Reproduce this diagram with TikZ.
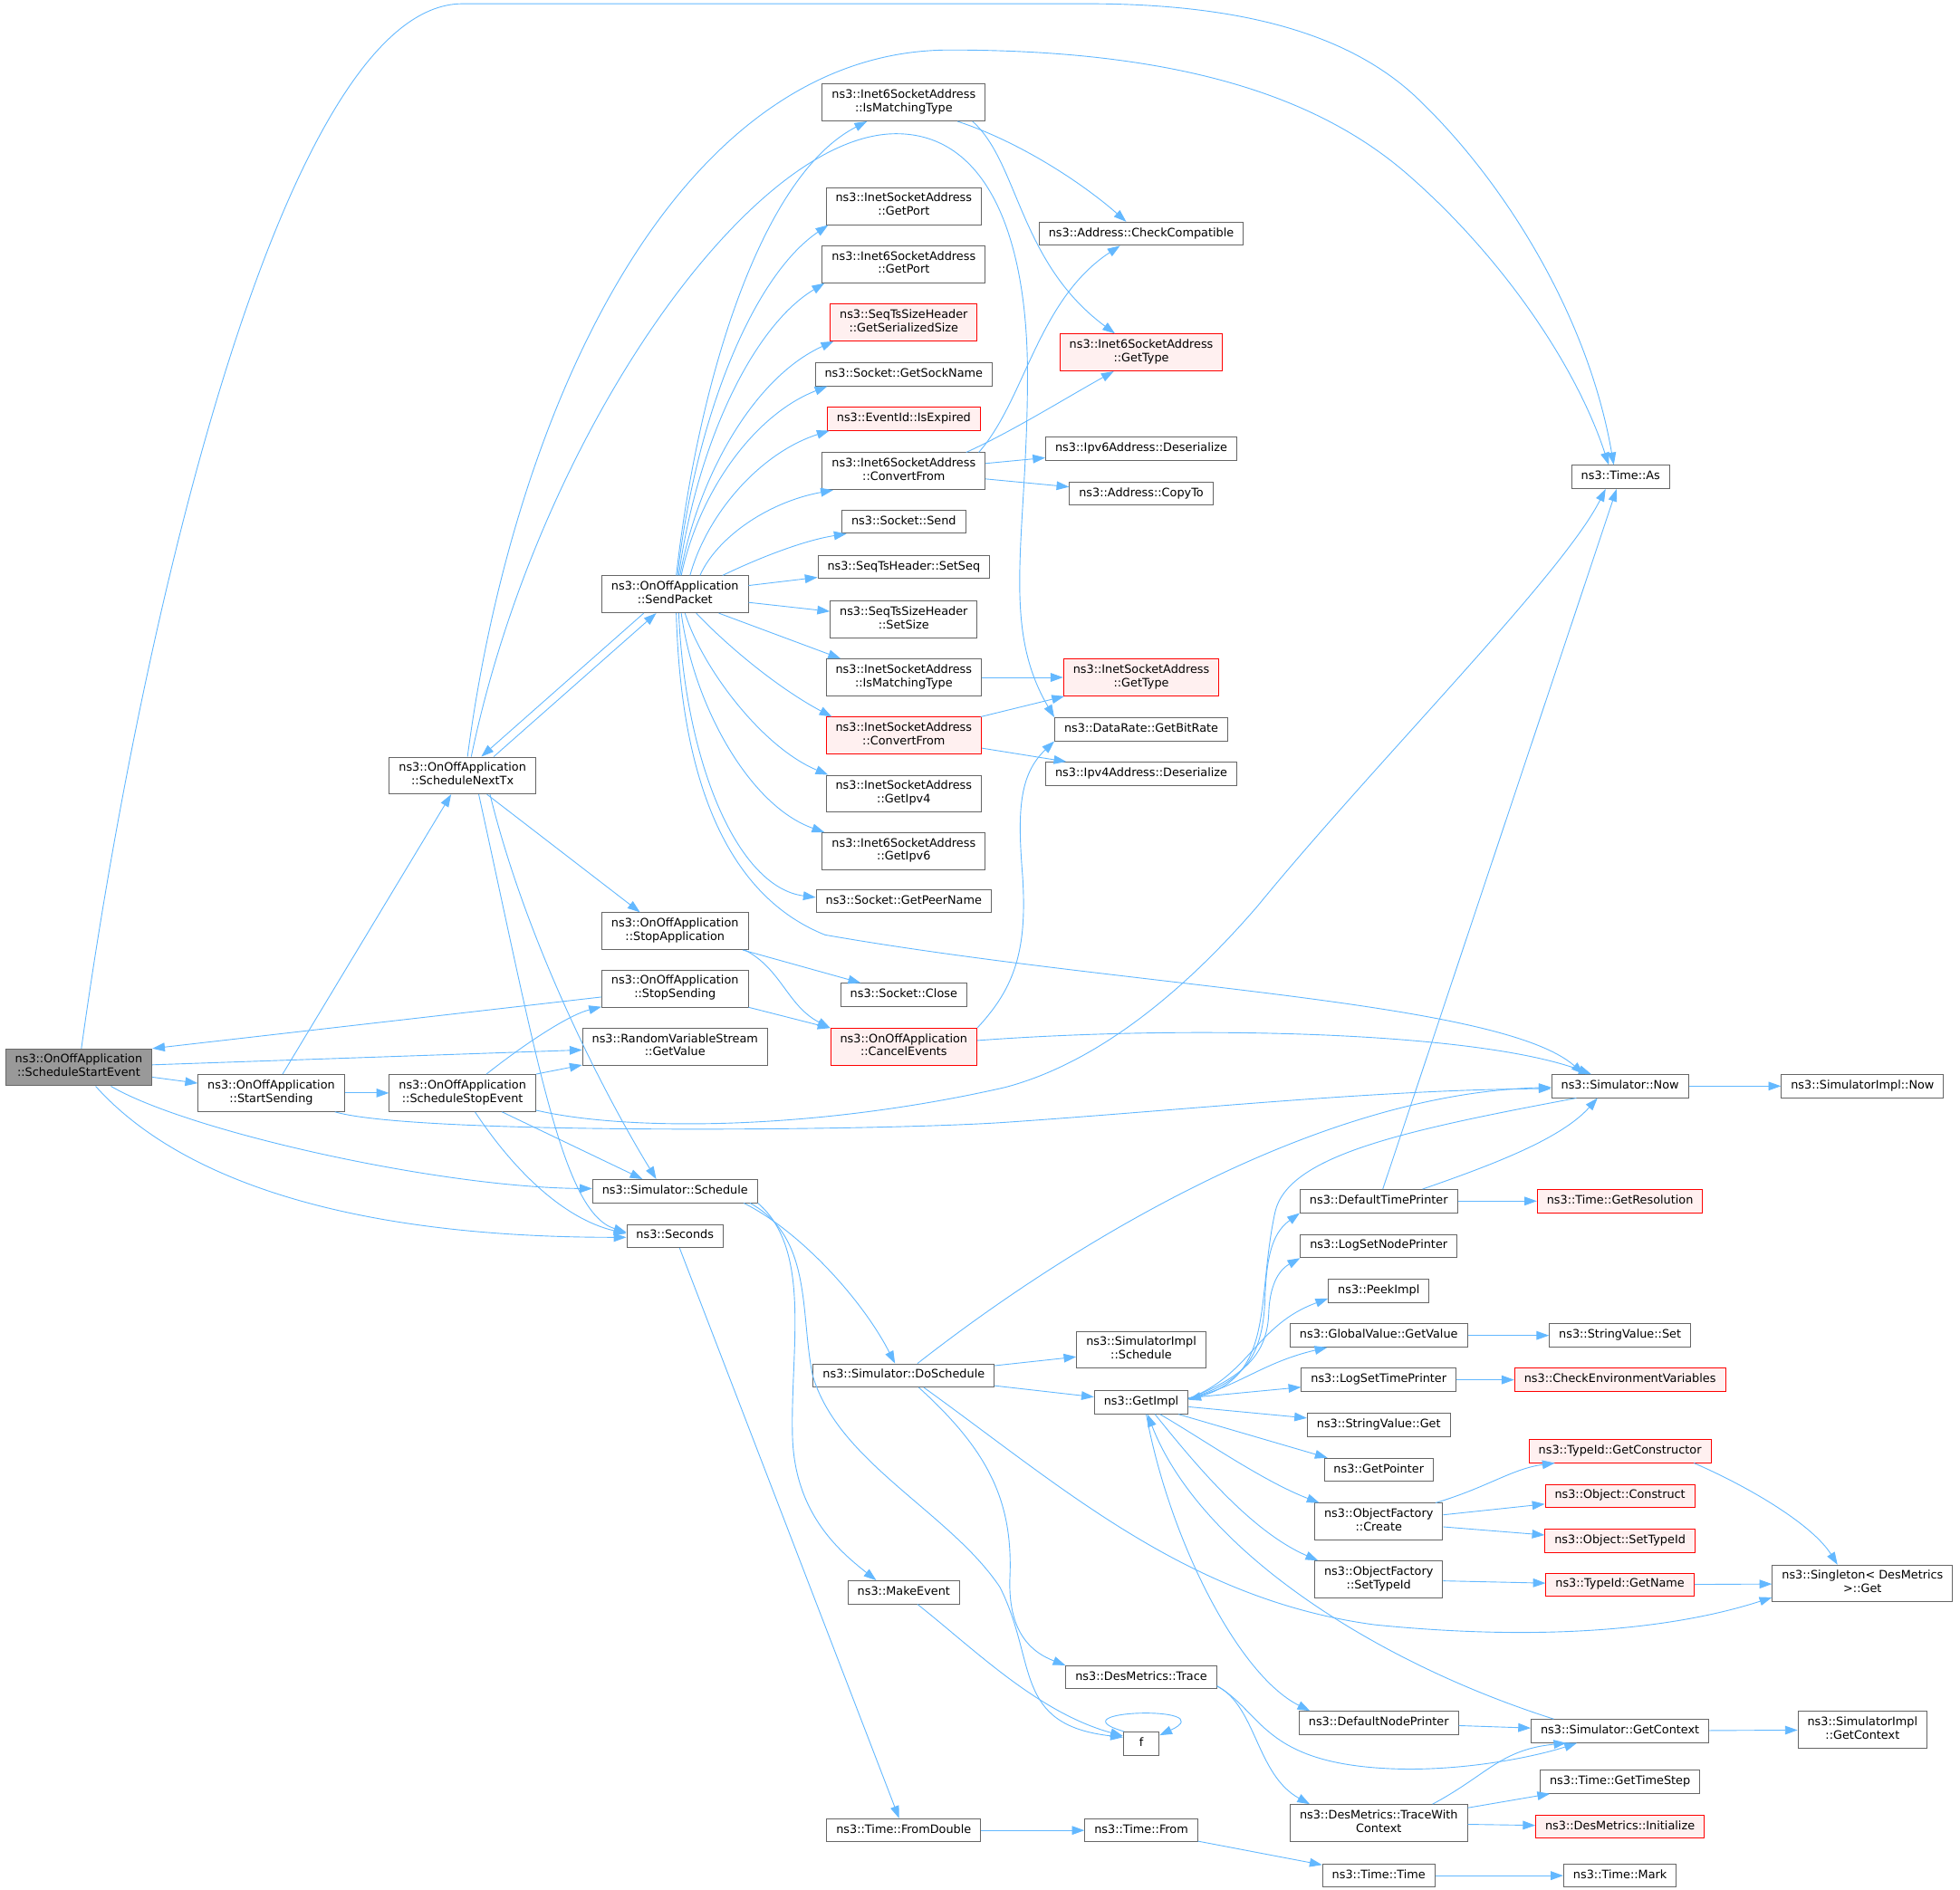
\documentclass[tikz,border=0pt]{standalone}
\usepackage{fontspec}
\setmainfont{DejaVu Sans}
\usetikzlibrary{arrows.meta}
\definecolor{eblue}{HTML}{63B8FF}
\definecolor{bgray}{HTML}{666666}
\definecolor{rootfill}{HTML}{999999}
\definecolor{pinkfill}{HTML}{FFF0F0}
\definecolor{bred}{HTML}{FF0000}
\begin{document}
\begin{tikzpicture}[x=1pt,y=-1pt,
  nd/.style={draw=bgray, fill=white, line width=0.7pt, inner xsep=7.6pt, inner ysep=1pt,
    minimum height=18.5pt, minimum width=28.6pt, font=\fontsize{9.3}{10.8}\selectfont, text=black,
    execute at begin node=\strut},
  nd2/.style={nd, minimum height=29.5pt, align=center, execute at end node=\strut},
  rnd/.style={draw=bred, fill=pinkfill},
  rootnd/.style={fill=rootfill},
  cx/.style={draw=eblue, line width=0.65pt, -{Triangle[length=10pt,width=7pt]}},
]
\useasboundingbox (0,0) rectangle (1568,1511.5);
% column 0-3
\node[nd2,rootnd] (SSE) at (63,854) {ns3::OnOffApplication\\::ScheduleStartEvent};
\node[nd2] (SS) at (217,874.5) {ns3::OnOffApplication\\::StartSending};
\node[nd2] (SNT) at (370,620.5) {ns3::OnOffApplication\\::ScheduleNextTx};
\node[nd2] (SStop) at (370,874.5) {ns3::OnOffApplication\\::ScheduleStopEvent};
\node[nd2] (SP) at (540,475.5) {ns3::OnOffApplication\\::SendPacket};
\node[nd2] (StopApp) at (540,745) {ns3::OnOffApplication\\::StopApplication};
\node[nd2] (StopSnd) at (540,791) {ns3::OnOffApplication\\::StopSending};
\node[nd2] (RVS) at (540,837.5) {ns3::RandomVariableStream\\::GetValue};
\node[nd] (Sched) at (540,953) {ns3::Simulator::Schedule};
\node[nd] (Secs) at (540,989) {ns3::Seconds};
% column 4
\node[nd2] (IM6) at (723,82) {ns3::Inet6SocketAddress\\::IsMatchingType};
\node[nd2] (GP4) at (723,165) {ns3::InetSocketAddress\\::GetPort};
\node[nd2] (GP6) at (723,211.5) {ns3::Inet6SocketAddress\\::GetPort};
\node[nd2,rnd] (GSS) at (723,258) {ns3::SeqTsSizeHeader\\::GetSerializedSize};
\node[nd] (GSN) at (723,299.5) {ns3::Socket::GetSockName};
\node[nd,rnd] (IE) at (723,335) {ns3::EventId::IsExpired};
\node[nd2] (CF6) at (723,377) {ns3::Inet6SocketAddress\\::ConvertFrom};
\node[nd] (Send) at (723,417.5) {ns3::Socket::Send};
\node[nd] (SetSeq) at (723,453.7) {ns3::SeqTsHeader::SetSeq};
\node[nd2] (SetSize) at (723,495.7) {ns3::SeqTsSizeHeader\\::SetSize};
\node[nd2] (IM4) at (723,542) {ns3::InetSocketAddress\\::IsMatchingType};
\node[nd2,rnd] (CF4) at (723,588.6) {ns3::InetSocketAddress\\::ConvertFrom};
\node[nd2] (Ipv4) at (723,635) {ns3::InetSocketAddress\\::GetIpv4};
\node[nd2] (Ipv6) at (723,681) {ns3::Inet6SocketAddress\\::GetIpv6};
\node[nd] (GPN) at (723,721) {ns3::Socket::GetPeerName};
\node[nd] (Close) at (723,796) {ns3::Socket::Close};
\node[nd2,rnd] (CE) at (723,837.5) {ns3::OnOffApplication\\::CancelEvents};
\node[nd] (DoSch) at (723,1100.5) {ns3::Simulator::DoSchedule};
\node[nd] (MkEv) at (723,1274) {ns3::MakeEvent};
\node[nd] (FromD) at (723,1464.5) {ns3::Time::FromDouble};
% column 5
\node[nd] (ChkC) at (913,187) {ns3::Address::CheckCompatible};
\node[nd2,rnd] (I6GT) at (913,282) {ns3::Inet6SocketAddress\\::GetType};
\node[nd] (Ipv6D) at (913,359) {ns3::Ipv6Address::Deserialize};
\node[nd] (CopyTo) at (913,395) {ns3::Address::CopyTo};
\node[nd2,rnd] (IGT) at (913,542) {ns3::InetSocketAddress\\::GetType};
\node[nd] (GBR) at (913,583.5) {ns3::DataRate::GetBitRate};
\node[nd] (Ipv4D) at (913,619) {ns3::Ipv4Address::Deserialize};
\node[nd2] (SIS) at (913,1080) {ns3::SimulatorImpl\\::Schedule};
\node[nd] (GetImpl) at (913,1122) {ns3::GetImpl};
\node[nd] (Trace) at (913,1342) {ns3::DesMetrics::Trace};
\node[nd] (f) at (913,1395) {f};
\node[nd] (TFrom) at (913,1464.5) {ns3::Time::From};
% column 6
\node[nd] (DTP) at (1103,961) {ns3::DefaultTimePrinter};
\node[nd] (LSNP) at (1103,997) {ns3::LogSetNodePrinter};
\node[nd] (Peek) at (1103,1033) {ns3::PeekImpl};
\node[nd] (GVGV) at (1103,1068.5) {ns3::GlobalValue::GetValue};
\node[nd] (LSTP) at (1103,1104) {ns3::LogSetTimePrinter};
\node[nd] (SVGet) at (1103,1140) {ns3::StringValue::Get};
\node[nd] (GetPtr) at (1103,1176) {ns3::GetPointer};
\node[nd2] (OFC) at (1103,1217.5) {ns3::ObjectFactory\\::Create};
\node[nd2] (OFS) at (1103,1263.7) {ns3::ObjectFactory\\::SetTypeId};
\node[nd] (DNP) at (1103,1378.5) {ns3::DefaultNodePrinter};
\node[nd2] (TWC) at (1103,1458.6) {ns3::DesMetrics::TraceWith\\Context};
\node[nd] (TTime) at (1103,1500.7) {ns3::Time::Time};
% column 7
\node[nd] (TimeAs) at (1296.5,381.6) {ns3::Time::As};
\node[nd] (SimNow) at (1296,869) {ns3::Simulator::Now};
\node[nd,rnd] (GetRes) at (1296,961) {ns3::Time::GetResolution};
\node[nd] (SVSet) at (1296,1068.5) {ns3::StringValue::Set};
\node[nd,rnd] (ChkEnv) at (1296,1104) {ns3::CheckEnvironmentVariables};
\node[nd,rnd] (GetCons) at (1296,1161) {ns3::TypeId::GetConstructor};
\node[nd,rnd] (ObjCons) at (1296,1197) {ns3::Object::Construct};
\node[nd,rnd] (ObjSTI) at (1296,1233) {ns3::Object::SetTypeId};
\node[nd,rnd] (GetName) at (1296,1268) {ns3::TypeId::GetName};
\node[nd] (GetCtx) at (1296,1385) {ns3::Simulator::GetContext};
\node[nd] (GetTS) at (1296,1425.6) {ns3::Time::GetTimeStep};
\node[nd,rnd] (Init) at (1296,1461.5) {ns3::DesMetrics::Initialize};
\node[nd] (Mark) at (1296,1500.7) {ns3::Time::Mark};
% column 8
\node[nd] (SINow) at (1490,869) {ns3::SimulatorImpl::Now};
\node[nd2] (Single) at (1490,1267) {ns3::Singleton< DesMetrics\\>::Get};
\node[nd2] (SICtx) at (1490,1384) {ns3::SimulatorImpl\\::GetContext};

% ---- edges from ScheduleStartEvent
\draw[cx] (SSE) .. controls (115,480) and (230,3) .. (370,3) -- (870,3) .. controls (1000,3) and (1080,30) .. (1130,75) .. controls (1200,140) and (1270,250) .. ([xshift=-5.5pt]TimeAs.north);
\draw[cx] (SSE) -- (SS);
\draw[cx] (SSE) -- (RVS);
\draw[cx] (SSE) .. controls (150,905) and (350,950) .. ([yshift=2pt]Sched.west);
\draw[cx] (SSE) .. controls (140,940) and (270,990) .. ([yshift=-1pt]Secs.west);
\draw[cx] (StopSnd) -- (SSE.north east);
% ---- StartSending
\draw[cx] (SS) -- (SNT);
\draw[cx] (SS) -- (SStop);
\draw[cx] (SS) .. controls (330,908) and (700,905) .. (804,898) .. controls (950,888) and (1100,872) .. ([yshift=-2pt]SimNow.west);
% ---- ScheduleStopEvent
\draw[cx] (SStop) .. controls (420,835) and (455,812) .. (StopSnd);
\draw[cx] (SStop.north east) -- (RVS);
\draw[cx] (SStop) .. controls (500,905) and (650,905) .. (804,870) .. controls (880,850) and (950,790) .. (1006,725) .. controls (1100,610) and (1250,460) .. ([xshift=-12pt]TimeAs.south);
\draw[cx] (SStop) -- ([xshift=-26pt]Sched.north);
\draw[cx] (SStop) .. controls (410,935) and (450,975) .. ([yshift=2pt]Secs.west);
% ---- ScheduleNextTx
\draw[cx] ([xshift=4pt]SNT.north) .. controls (410,330) and (540,40) .. (760,40) .. controls (950,40) and (1060,80) .. (1130,143) .. controls (1200,205) and (1260,290) .. ([xshift=-9.5pt]TimeAs.north);
\draw[cx] ([xshift=7pt]SNT.north) .. controls (430,350) and (600,107) .. (717,107) .. controls (790,107) and (822,190) .. (822,300) .. controls (822,430) and (800,500) .. (GBR.north west);
\draw[cx] ([xshift=25pt]SNT.north) -- ([xshift=-15pt]SP.south);
\draw[cx] ([xshift=-25pt]SP.south) -- ([xshift=15pt]SNT.north);
\draw[cx] (SNT) -- ([xshift=-28pt]StopApp.north);
\draw[cx] ([xshift=22pt]SNT.south) .. controls (420,750) and (480,870) .. ([xshift=-15pt]Sched.north);
\draw[cx] ([xshift=13pt]SNT.south) .. controls (430,850) and (450,970) .. ([yshift=3pt]Secs.west);
% ---- SendPacket fan
\draw[cx] ([xshift=1pt]SP.north) .. controls (559,301) and (610,140) .. (IM6);
\draw[cx] ([xshift=2pt]SP.north) .. controls (556,337) and (601,222) .. ([xshift=2pt]GP4.south west);
\draw[cx] ([xshift=3pt]SP.north) .. controls (557,358) and (601,262) .. ([xshift=2pt]GP6.south west);
\draw[cx] ([xshift=4pt]SP.north) .. controls (559,378) and (605,301) .. ([xshift=3pt]GSS.south west);
\draw[cx] ([xshift=5pt]SP.north) .. controls (559,394) and (603,332) .. ([xshift=10pt]GSN.south west);
\draw[cx] ([xshift=12pt]SP.north) .. controls (566,410) and (609,362) .. ([xshift=2pt]IE.south west);
\draw[cx] ([xshift=20pt]SP.north) .. controls (573,431) and (613,402) .. ([xshift=9pt]CF6.south west);
\draw[cx] ([xshift=38pt]SP.north) .. controls (610,445) and (645,432) .. ([xshift=4pt]Send.south west);
\draw[cx] (SP) -- (SetSeq);
\draw[cx] (SP) -- (SetSize);
\draw[cx] ([xshift=35pt]SP.south) -- ([xshift=12pt]IM4.north west);
\draw[cx] ([xshift=17pt]SP.south) .. controls (585,520) and (625,552) .. ([xshift=5pt]CF4.north west);
\draw[cx] ([xshift=8pt]SP.south) .. controls (562,535) and (610,598) .. ([xshift=2pt]Ipv4.north west);
\draw[cx] ([xshift=5pt]SP.south) .. controls (555,565) and (600,645) .. ([xshift=2pt]Ipv6.north west);
\draw[cx] ([xshift=3pt]SP.south) .. controls (548,610) and (590,710) .. ([yshift=3pt]GPN.west);
\draw[cx] ([xshift=1pt]SP.south) .. controls (545,640) and (590,720) .. (660,748) .. controls (900,790) and (1200,800) .. ([xshift=26pt]SimNow.north west);
% ---- column 4 -> 5
\draw[cx] ([xshift=43pt]IM6.south) .. controls (820,115) and (870,150) .. ([xshift=-12pt]ChkC.north);
\draw[cx] ([xshift=55pt]IM6.south) .. controls (815,130) and (815,210) .. ([xshift=-21pt]I6GT.north);
\draw[cx] ([xshift=60pt]CF6.north) .. controls (820,320) and (830,240) .. ([xshift=-17pt]ChkC.south);
\draw[cx] ([xshift=50pt]CF6.north) .. controls (810,345) and (850,320) .. ([xshift=-22pt]I6GT.south);
\draw[cx] (CF6) -- (Ipv6D);
\draw[cx] (CF6) -- (CopyTo);
\draw[cx] (IM4) -- (IGT);
\draw[cx] (CF4) -- (IGT);
\draw[cx] (CF4) -- (Ipv4D);
% ---- stop application / sending
\draw[cx] (StopApp) -- (Close);
\draw[cx] ([xshift=-3pt]StopApp.south east) .. controls (625,775) and (630,805) .. (CE.north west);
\draw[cx] (StopSnd) -- (CE);
\draw[cx] (CE.north east) .. controls (812,790) and (822,760) .. (818,700) .. controls (814,650) and (815,620) .. (GBR.south west);
\draw[cx] ([yshift=5pt]CE.east) .. controls (950,820) and (1180,825) .. ([xshift=32pt]SimNow.north west);
% ---- Schedule
\draw[cx] ([xshift=55pt]Sched.south) .. controls (640,985) and (690,1040) .. ([xshift=-7pt]DoSch.north);
\draw[cx] (Sched.south east) .. controls (650,1000) and (632,1080) .. (634,1150) .. controls (636,1210) and (670,1240) .. ([xshift=-22pt]MkEv.north);
\draw[cx] ([xshift=60pt]Sched.south) .. controls (650,990) and (640,1050) .. (650,1100) .. controls (670,1170) and (760,1210) .. (800,1270) .. controls (830,1330) and (810,1380) .. ([yshift=5pt]f.west);
\draw[cx] ([xshift=11pt]MkEv.south) .. controls (780,1320) and (830,1370) .. ([yshift=6pt]f.west);
\draw[cx] ([xshift=1pt]f.north west) .. controls (840,1368) and (980,1364) .. ([yshift=-3pt]f.north east);
% ---- Seconds / Time
\draw[cx] (Secs) -- (FromD);
\draw[cx] (FromD) -- (TFrom);
\draw[cx] (TFrom) -- (TTime);
\draw[cx] (TTime) -- (Mark);
% ---- DoSchedule
\draw[cx] ([xshift=11pt]DoSch.north) .. controls (850,1000) and (1050,875) .. ([yshift=-1pt]SimNow.west);
\draw[cx] (DoSch) -- (SIS);
\draw[cx] (DoSch) -- (GetImpl);
\draw[cx] ([xshift=12pt]DoSch.south) .. controls (790,1160) and (810,1200) .. (808,1260) .. controls (806,1300) and (820,1320) .. (Trace.north west);
\draw[cx] ([xshift=16pt]DoSch.south) .. controls (850,1190) and (950,1280) .. (1100,1300) .. controls (1250,1315) and (1350,1300) .. ([yshift=4pt]Single.south west);
% ---- GetImpl fan
\draw[cx] ([yshift=3pt]GetImpl.east) .. controls (1000,1105) and (1010,1080) .. (1012,1040) .. controls (1013,1000) and (1020,985) .. (DTP.south west);
\draw[cx] ([yshift=3pt]GetImpl.east) .. controls (1000,1100) and (1014,1080) .. (1015,1050) .. controls (1016,1025) and (1025,1015) .. (LSNP.south west);
\draw[cx] ([yshift=3pt]GetImpl.east) .. controls (1000,1100) and (1005,1060) .. ([yshift=-6pt]Peek.west);
\draw[cx] ([yshift=3pt]GetImpl.east) .. controls (990,1110) and (1010,1090) .. ([xshift=30pt]GVGV.south west);
\draw[cx] (GetImpl) -- (LSTP);
\draw[cx] (GetImpl) -- (SVGet);
\draw[cx] ([xshift=-8pt]GetImpl.south east) -- ([xshift=3pt]GetPtr.north west);
\draw[cx] ([xshift=15pt]GetImpl.south) .. controls (960,1150) and (1010,1185) .. ([xshift=4pt]OFC.north west);
\draw[cx] ([xshift=11pt]GetImpl.south) .. controls (955,1170) and (1000,1225) .. ([xshift=3pt]OFS.north west);
\draw[cx] ([xshift=4pt]GetImpl.south) .. controls (935,1230) and (990,1340) .. ([xshift=9pt]DNP.north west);
\draw[cx] ([xshift=-53pt]GetCtx.north) .. controls (1100,1330) and (960,1240) .. ([xshift=5pt]GetImpl.south);
\draw[cx] ([xshift=-35pt]SimNow.south) .. controls (1120,905) and (1030,925) .. (1020,970) .. controls (1005,1040) and (1020,1100) .. ([yshift=2pt]GetImpl.east);
% ---- printers etc
\draw[cx] (DTP) -- (TimeAs);
\draw[cx] ([xshift=35pt]DTP.north) .. controls (1200,930) and (1250,910) .. ([xshift=-18pt]SimNow.south);
\draw[cx] (DTP) -- (GetRes);
\draw[cx] (GVGV) -- (SVSet);
\draw[cx] (LSTP) -- (ChkEnv);
\draw[cx] ([xshift=-6pt]OFC.north east) .. controls (1190,1190) and (1210,1175) .. ([xshift=21pt]GetCons.south west);
\draw[cx] (OFC) -- (ObjCons);
\draw[cx] (OFC) -- (ObjSTI);
\draw[cx] (OFS) -- (GetName);
\draw[cx] ([xshift=-14pt]GetCons.south east) .. controls (1400,1190) and (1450,1220) .. ([xshift=-20pt]Single.north);
\draw[cx] (GetName) -- (Single);
\draw[cx] (DNP) -- (GetCtx);
\draw[cx] (GetCtx) -- (SICtx);
\draw[cx] (SimNow) -- (SINow);
% ---- trace
\draw[cx] ([yshift=-7pt]Trace.east) .. controls (1010,1370) and (1010,1410) .. (1110,1415) .. controls (1170,1418) and (1230,1405) .. ([xshift=-34.5pt]GetCtx.south);
\draw[cx] ([yshift=-7pt]Trace.east) .. controls (1005,1365) and (1005,1420) .. ([xshift=16pt]TWC.north west);
\draw[cx] ([xshift=43pt]TWC.north) .. controls (1190,1420) and (1200,1400) .. ([xshift=-43pt]GetCtx.south);
\draw[cx] (TWC) -- (GetTS);
\draw[cx] (TWC) -- (Init);
\end{tikzpicture}
\end{document}
